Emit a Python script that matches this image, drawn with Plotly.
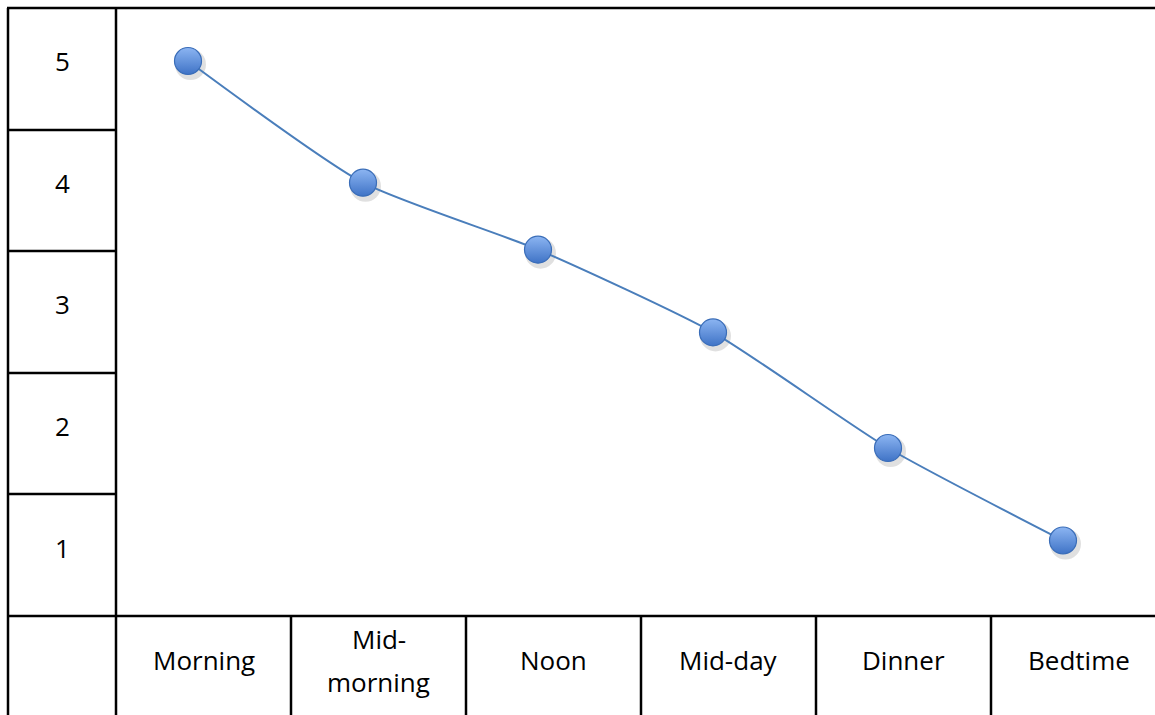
import plotly.graph_objects as go

# Energy level through the day, rated 1-5
categories = ["Morning", "Mid-morning", "Noon", "Mid-day", "Dinner", "Bedtime"]
tick_labels = [["Morning"], ["Mid-", "morning"], ["Noon"], ["Mid-day"], ["Dinner"], ["Bedtime"]]
levels = [5.0, 4.0, 3.45, 2.77, 1.82, 1.06]
scale_labels = ["5", "4", "3", "2", "1"]
scale_values = [5, 4, 3, 2, 1]

W, H = 1155, 715

# Page geometry (pixels) of the surrounding table
LEFT, SPLIT, TOP = 8, 116, 8
ROW_LINES = [130, 251, 373, 494, 616]
COL_LINES = [291, 466, 641, 816, 991]
COL_W = 175
FIRST_PT_PX = 188      # pixel x of the first category
PX_PER_UNIT = 121.7    # pixels per rating step
Y5_PX = 61             # pixel y of rating 5
LABEL_Y = 660          # centre line of the category row text
LINE_GAP = 43          # distance between wrapped label lines

x_range = [-FIRST_PT_PX / COL_W, (W - FIRST_PT_PX) / COL_W]
y_range = [5 - (H - Y5_PX) / PX_PER_UNIT, 5 + Y5_PX / PX_PER_UNIT]


def px(x):
    return x / W


def py(y):
    return 1 - y / H


xs = list(range(len(categories)))

fig = go.Figure()

# soft drop shadow under each marker
shadow_dx = 2.5 / COL_W
shadow_dy = -3.5 / PX_PER_UNIT
fig.add_trace(go.Scatter(
    x=[x + shadow_dx for x in xs], y=[v + shadow_dy for v in levels],
    mode="markers",
    marker=dict(size=31, color="rgba(0,0,0,0.12)", line=dict(width=0)),
    hoverinfo="skip", showlegend=False,
))

fig.add_trace(go.Scatter(
    x=xs, y=levels, text=categories,
    mode="lines",
    line=dict(color="#4a7ebb", width=2, shape="spline", smoothing=0.6),
    hoverinfo="skip", showlegend=False,
))

fig.add_trace(go.Scatter(
    x=xs, y=levels, text=categories,
    mode="markers",
    marker=dict(size=27, color="#8cb5f2",
                gradient=dict(type="vertical", color="#3f73c6"),
                line=dict(color="#3a6db8", width=1.2)),
    hovertemplate="%{text}: %{y}<extra></extra>",
    showlegend=False,
))

line_style = dict(color="black", width=2.5)
shapes = []
# top border, spanning the full width
shapes.append(dict(type="line", xref="paper", yref="paper",
                   x0=px(LEFT - 1), x1=1, y0=py(TOP), y1=py(TOP), line=line_style))
# outer left border and column divider
for xv in (LEFT, SPLIT):
    shapes.append(dict(type="line", xref="paper", yref="paper",
                       x0=px(xv), x1=px(xv), y0=py(TOP), y1=0, line=line_style))
# rating rows in the left column
for yv in ROW_LINES[:-1]:
    shapes.append(dict(type="line", xref="paper", yref="paper",
                       x0=px(LEFT), x1=px(SPLIT), y0=py(yv), y1=py(yv), line=line_style))
# line above the category row
shapes.append(dict(type="line", xref="paper", yref="paper",
                   x0=px(LEFT), x1=1, y0=py(ROW_LINES[-1]), y1=py(ROW_LINES[-1]),
                   line=line_style))
# category dividers
for xv in COL_LINES:
    shapes.append(dict(type="line", xref="paper", yref="paper",
                       x0=px(xv), x1=px(xv), y0=py(ROW_LINES[-1]), y1=0, line=line_style))

annotations = []
font = dict(family="Open Sans, Lato, sans-serif", size=26, color="#000000")
for lab, val in zip(scale_labels, scale_values):
    annotations.append(dict(x=px((LEFT + SPLIT) / 2), xref="paper", y=val, yref="y",
                            text=lab, showarrow=False, font=font,
                            xanchor="center", yanchor="middle"))
col_edges = [SPLIT] + COL_LINES + [SPLIT + COL_W * len(categories)]
for i, lines in enumerate(tick_labels):
    cx = (col_edges[i] + col_edges[i + 1]) / 2
    n = len(lines)
    for k, part in enumerate(lines):
        cy = LABEL_Y + (k - (n - 1) / 2) * LINE_GAP
        annotations.append(dict(x=px(cx), xref="paper", y=py(cy), yref="paper",
                                text=part, showarrow=False, font=font,
                                xanchor="center", yanchor="middle"))

fig.update_layout(
    width=W, height=H,
    margin=dict(l=0, r=0, t=0, b=0),
    paper_bgcolor="white", plot_bgcolor="white",
    xaxis=dict(range=x_range, visible=False, fixedrange=True),
    yaxis=dict(range=y_range, visible=False, fixedrange=True),
    shapes=shapes, annotations=annotations,
)

fig.write_html("out.html")
